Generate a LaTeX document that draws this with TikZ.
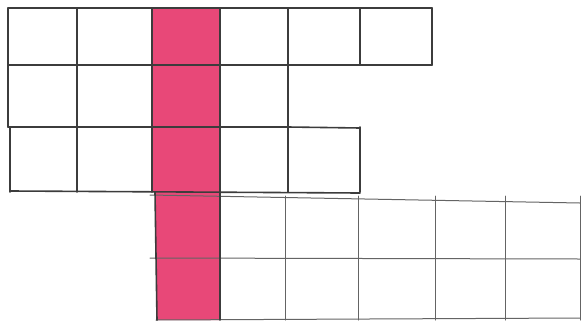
\documentclass[tikz,border=0pt]{standalone}
\definecolor{pinkfill}{RGB}{232,72,120}
\definecolor{inkdark}{RGB}{60,60,60}
\definecolor{inklight}{RGB}{100,100,100}
\tikzset{
  darkline/.style={draw=inkdark, line width=1.6pt, line cap=round},
  lightline/.style={draw=inklight, line width=1.0pt, line cap=round}
}
\begin{document}
\begin{tikzpicture}[x=1pt,y=-1pt]
\useasboundingbox (0,0) rectangle (583,327);
\fill[white] (0,0) rectangle (583,327);
% pink column
\fill[pinkfill] (152,8) -- (220,8) -- (220,320) -- (157,320) -- (155,192) -- (152,192) -- cycle;
% row 1 (6 cells)
\draw[darkline] (8,8) -- (432,8);
\draw[darkline] (8,65) -- (432,65);
\foreach \x in {8,77,152,220,288,360,432} \draw[darkline] (\x,8) -- (\x,65);
% row 2 (4 cells)
\draw[darkline] (8,127) -- (288,127);
\foreach \x in {8,77,152,220,288} \draw[darkline] (\x,65) -- (\x,127);
% row 3 (5 cells)
\draw[darkline] (288,127) -- (360,128);
\draw[darkline] (11,191) -- (360,193);
\foreach \x in {10,77,152,220,288,360} \draw[darkline] (\x,127) -- (\x,192);
% rows 4 and 5 (6 cells each)
\draw[lightline] (150,195) -- (580,203);
\draw[lightline] (150,258) -- (580,259);
\draw[lightline] (156,320) -- (580,318);
\draw[darkline] (155,192) -- (157,320);
\draw[darkline] (220,192) -- (220,320);
\foreach \x in {285,358,435,505,580} \draw[lightline] (\x,196) -- (\x,320);
\end{tikzpicture}
\end{document}
